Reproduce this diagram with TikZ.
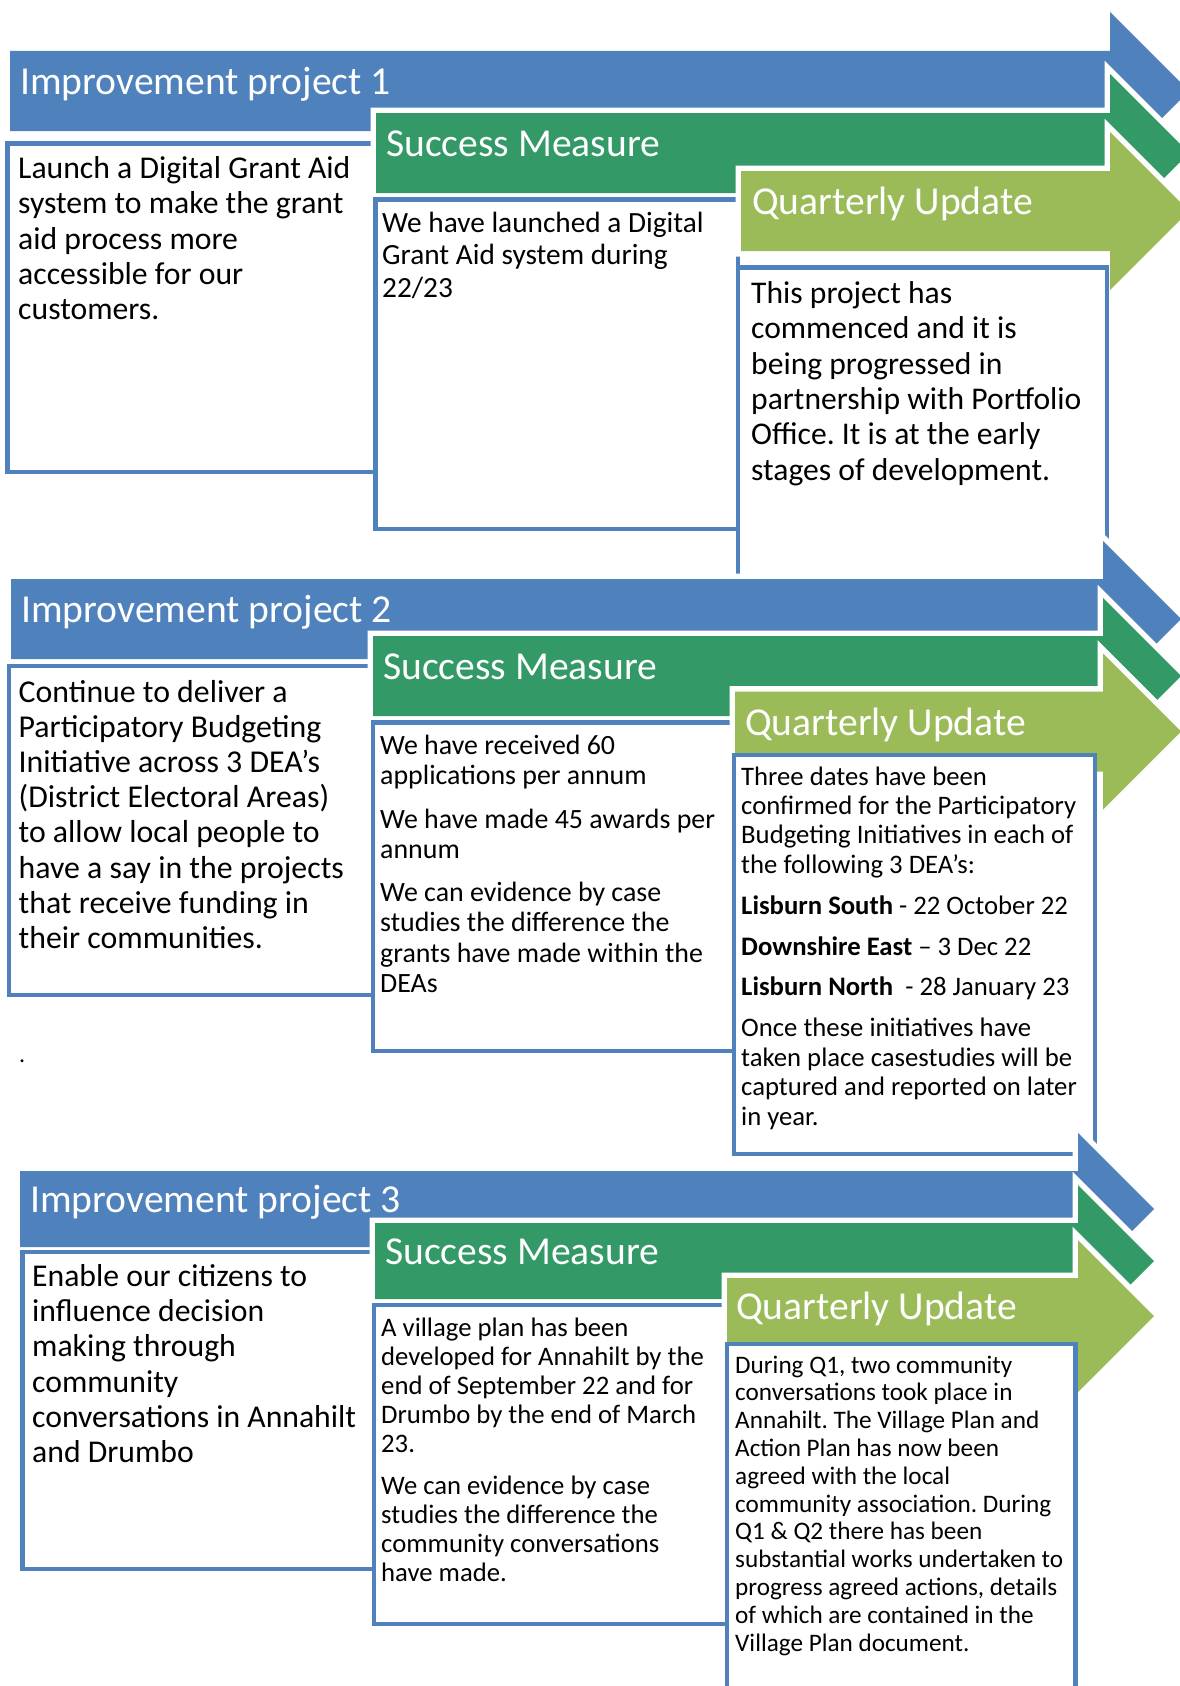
\documentclass[tikz,border=0pt]{standalone}
\usepackage{fontspec}
\setmainfont{Carlito}
\frenchspacing
\definecolor{ablue}{RGB}{79,129,189}
\definecolor{agreen}{RGB}{51,153,102}
\definecolor{alime}{RGB}{155,187,89}
\tikzset{
  arrowgap/.style={draw=white, line width=11pt, line join=miter},
  txtbox/.style={draw=ablue, line width=4.5pt, fill=white},
  hdr/.style={anchor=base west, inner sep=0pt, text=white, font=\fontsize{39.6}{47}\selectfont},
  % anchored at the baseline of the LAST line of the text
  body/.style={anchor=base west, inner sep=0pt, align=left},
}
\newcommand\procarrow[6]{%
  \pgfmathsetmacro\arrC{(#3+#4)/2}%
  \pgfmathsetmacro\arrHT{\arrC-#6}%
  \pgfmathsetmacro\arrHB{\arrC+#6}%
  \pgfmathsetmacro\arrTX{#5+#6}%
  \draw[arrowgap] (#2,#3) -- (#5,#3) -- (#5,\arrHT) -- (\arrTX,\arrC) -- (#5,\arrHB) -- (#5,#4) -- (#2,#4) -- cycle;
  \fill[#1] (#2,#3) -- (#5,#3) -- (#5,\arrHT) -- (\arrTX,\arrC) -- (#5,\arrHB) -- (#5,#4) -- (#2,#4) -- cycle;
}
\begin{document}
\frenchspacing
\begin{tikzpicture}[x=1pt,y=-1pt]
\path[use as bounding box] (0,0) rectangle (1180,1686);
\clip (0,0) rectangle (1180,1686);
\fill[white] (0,0) rectangle (1180,1686);

% ---------------- Section 1 ----------------
\procarrow{ablue}{10}{51}{131}{1110}{79}
\node[hdr] (ip1h) at (20,95) {Improvement project 1};
\draw[txtbox] (7.5,143.5) rectangle (375.5,472);
\node[body, font=\fontsize{31.7}{35.2}\selectfont] (ip1t) at (18,319.5)
  {Launch a Digital Grant Aid\\system to make the grant\\aid process more\\accessible for our\\customers.};
\procarrow{agreen}{376}{113}{193}{1110}{79}
\node[hdr] (sm1h) at (386,156) {Success Measure};
\draw[txtbox] (375.5,199.5) rectangle (738,529);
\node[body, font=\fontsize{29.3}{32.3}\selectfont] (sm1t) at (382,297)
  {We have launched a Digital\\Grant Aid system during\\22/23};
\procarrow{alime}{741}{171}{251}{1110}{79}
\node[hdr] (qu1h) at (752,214) {Quarterly Update};
\draw[txtbox] (738,267.5) rectangle (1107,640);
\node[body, font=\fontsize{31.6}{35.3}\selectfont] (qu1t) at (751,480)
  {This project has\\commenced and it is\\being progressed in\\partnership with Portfolio\\Office. It is at the early\\stages of development.};

% ---------------- Section 2 ----------------
\procarrow{ablue}{11}{579}{659}{1103}{78}
\node[hdr] (ip2h) at (21,622.5) {Improvement project 2};
\draw[txtbox] (9,666) rectangle (373,995);
\node[body, font=\fontsize{31.8}{35.2}\selectfont] (ip2t) at (18.5,948.5)
  {Continue to deliver a\\Participatory Budgeting\\Initiative across 3 DEA’s\\(District Electoral Areas)\\to allow local people to\\have a say in the projects\\that receive funding in\\their communities.};
\procarrow{agreen}{373}{636}{716}{1103}{78}
\node[hdr] (sm2h) at (383,679.5) {Success Measure};
\draw[txtbox] (373,722.5) rectangle (735,1051);
\node[body, font=\fontsize{27.9}{30.3}\selectfont] (sm2t) at (380,992.5)
  {We have received 60\\applications per annum\\[13pt]We have made 45 awards per\\annum\\[13pt]We can evidence by case\\studies the difference the\\grants have made within the\\DEAs};
\procarrow{alime}{735}{691.5}{771.5}{1103}{78}
\node[hdr] (qu2h) at (745,735) {Quarterly Update};
\draw[txtbox] (734,755) rectangle (1095,1154);
\node[body, font=\fontsize{26.7}{29.4}\selectfont] (qu2t) at (741,1125)
  {Three dates have been\\confirmed for the Participatory\\Budgeting Initiatives in each of\\the following 3 DEA’s:\\[11.5pt]\textbf{Lisburn South} - 22 October 22\\[11.5pt]\textbf{Downshire East} – 3 Dec 22\\[11.5pt]\textbf{Lisburn North}\ \ - 28 January 23\\[11.5pt]Once these initiatives have\\taken place casestudies will be\\captured and reported on later\\in year.};
\node[body, font=\fontsize{24}{28}\selectfont] (dot) at (19,1062) {.};

% ---------------- Section 3 ----------------
\procarrow{ablue}{20}{1171}{1247}{1078}{76}
\node[hdr] (ip3h) at (30,1212) {Improvement project 3};
\draw[txtbox] (22.5,1252) rectangle (374,1569);
\node[body, font=\fontsize{31.7}{35.2}\selectfont] (ip3t) at (32,1462.5)
  {Enable our citizens to\\influence decision\\making through\\community\\conversations in Annahilt\\and Drumbo};
\procarrow{agreen}{375}{1223}{1299}{1078}{76}
\node[hdr] (sm3h) at (385,1264.5) {Success Measure};
\draw[txtbox] (374,1305) rectangle (727,1624);
\node[body, font=\fontsize{26.7}{29}\selectfont] (sm3t) at (381,1581)
  {A village plan has been\\developed for Annahilt by the\\end of September 22 and for\\Drumbo by the end of March\\23.\\[13pt]We can evidence by case\\studies the difference the\\community conversations\\have made.};
\procarrow{alime}{727}{1278}{1354}{1078}{76}
\node[hdr] (qu3h) at (736,1319.5) {Quarterly Update};
\draw[txtbox] (727,1344) rectangle (1075.5,1720);
\node[body, font=\fontsize{25.2}{27.8}\selectfont] (qu3t) at (735,1651)
  {During Q1, two community\\conversations took place in\\Annahilt. The Village Plan and\\Action Plan has now been\\agreed with the local\\community association. During\\Q1 \& Q2 there has been\\substantial works undertaken to\\progress agreed actions, details\\of which are contained in the\\Village Plan document.};
\end{tikzpicture}
\end{document}
